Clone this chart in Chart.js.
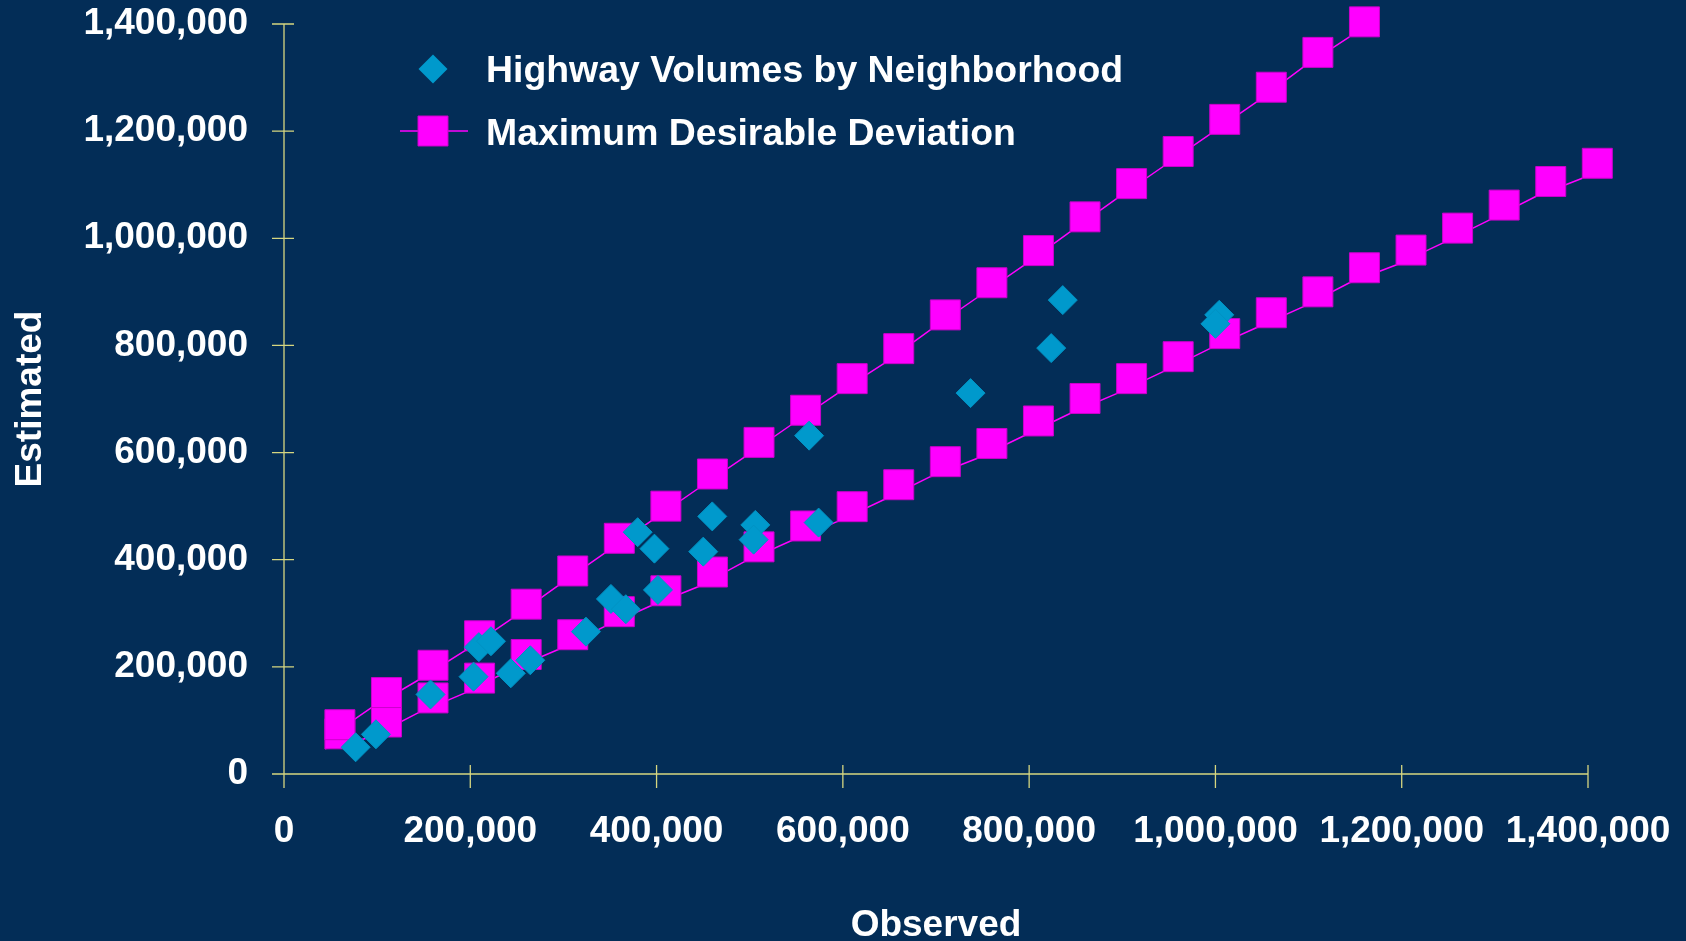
<!DOCTYPE html>
<html>
<head>
<meta charset="utf-8">
<title>Highway Volumes by Neighborhood</title>
<script src="https://cdn.jsdelivr.net/npm/chart.js@4.4.1/dist/chart.umd.min.js"></script>
<style>
  html, body { margin: 0; padding: 0; background: #032d57; overflow: hidden; }
  canvas { display: block; }
</style>
</head>
<body>
<canvas id="chart" width="1686" height="941"></canvas>
<script>
const fontFamily = '"Liberation Sans", Arial, sans-serif';
const blue = "#0099cc";
const magenta = "#ff00ff";
const axisColor = "#d6d680";

// Highway Volumes by Neighborhood
const observed = [76900, 98700, 157300, 203500, 243500, 264400, 209200, 222200, 324200, 351000,
    367000, 401500, 379700, 397700, 459800, 450100, 506000, 504200, 574000, 563800,
    737100, 823700, 836100, 1004100, 1000000];
const estimated = [49900, 74100, 148500, 181700, 188000, 212300, 236800, 247800, 265700, 326800,
    307600, 343600, 451400, 420700, 480900, 415100, 465000, 437500, 469300, 631600,
    711000, 795000, 884600, 857100, 840300];

// Maximum Desirable Deviation (upper and lower band)
const upperObserved = [60000, 110000, 160000, 210000, 260000, 310000, 360000, 410000, 460000, 510000,
    560000, 610000, 660000, 710000, 760000, 810000, 860000, 910000, 960000, 1010000,
    1060000, 1110000, 1160000];
const upperEstimated = [92000, 152000, 203000, 258000, 317000, 379000, 440000, 500000, 560000, 619000,
    679000, 738000, 794000, 857000, 917000, 977000, 1040000, 1102000, 1162000, 1222000,
    1282000, 1347000, 1404000];
const lowerObserved = [60000, 110000, 160000, 210000, 260000, 310000, 360000, 410000, 460000, 510000,
    560000, 610000, 660000, 710000, 760000, 810000, 860000, 910000, 960000, 1010000,
    1060000, 1110000, 1160000, 1210000, 1260000, 1310000, 1360000, 1410000];
const lowerEstimated = [75000, 97000, 142000, 179000, 223000, 260000, 303000, 342000, 377000, 424000,
    463000, 499000, 540000, 583000, 617000, 659000, 701000, 738000, 779000, 822000,
    861000, 900000, 945000, 978000, 1019000, 1062000, 1106000, 1140000];

const axisTicks = [0, 200000, 400000, 600000, 800000, 1000000, 1200000, 1400000];

const toPoints = (xs, ys) => xs.map((x, i) => ({ x: x, y: ys[i] }));

const tickFont = { family: fontFamily, size: 37, weight: "bold" };
const titleFont = { family: fontFamily, size: 37, weight: "bold", lineHeight: 1 };

// axis lines with ticks crossing them
const axisLines = {
    id: "axisLines",
    beforeDatasetsDraw(chart) {
        const { ctx, chartArea: a, scales } = chart;
        ctx.save();
        ctx.strokeStyle = axisColor;
        ctx.lineWidth = 1.3;
        ctx.beginPath();
        ctx.moveTo(a.left, a.top);
        ctx.lineTo(a.left, a.bottom);
        ctx.moveTo(a.left, a.bottom);
        ctx.lineTo(a.right, a.bottom);
        scales.y.ticks.forEach(t => {
            const y = scales.y.getPixelForValue(t.value);
            ctx.moveTo(a.left - 12, y);
            ctx.lineTo(a.left + 10, y);
        });
        scales.x.ticks.forEach(t => {
            const x = scales.x.getPixelForValue(t.value);
            ctx.moveTo(x, a.bottom - 9);
            ctx.lineTo(x, a.bottom + 14);
        });
        ctx.stroke();
        ctx.restore();
    }
};

// the band lines sit a little down-left of their markers in the original
const lineShift = {
    id: "lineShift",
    beforeDatasetDraw(chart, args) {
        if (chart.data.datasets[args.index].shifted) {
            chart.ctx.save();
            chart.ctx.translate(-15, 15);
        }
    },
    afterDatasetDraw(chart, args) {
        if (chart.data.datasets[args.index].shifted) {
            chart.ctx.restore();
        }
    }
};

const legendBox = {
    id: "legendBox",
    afterDraw(chart) {
        const ctx = chart.ctx;
        ctx.save();
        ctx.fillStyle = blue;
        ctx.strokeStyle = blue;
        Chart.helpers.drawPoint(ctx, { pointStyle: "rectRot", radius: 14.5, borderWidth: 0 }, 433, 69);

        ctx.strokeStyle = magenta;
        ctx.lineWidth = 1.5;
        ctx.beginPath();
        ctx.moveTo(400, 131);
        ctx.lineTo(468, 131);
        ctx.stroke();
        ctx.fillStyle = magenta;
        ctx.strokeStyle = "#cc00cc";
        ctx.lineWidth = 1;
        Chart.helpers.drawPoint(ctx, { pointStyle: "rect", radius: 21.2, borderWidth: 1 }, 433, 131);

        ctx.fillStyle = "#ffffff";
        ctx.font = "bold 37.4px " + fontFamily;
        ctx.textBaseline = "alphabetic";
        ctx.textAlign = "left";
        ctx.fillText("Highway Volumes by Neighborhood", 486, 82);
        ctx.fillText("Maximum Desirable Deviation", 486, 144.5);
        ctx.restore();
    }
};

const squareStyle = {
    showLine: false,
    pointStyle: "rect",
    pointRadius: 21.2,
    pointHoverRadius: 21.2,
    backgroundColor: magenta,
    borderColor: "#cc00cc",
    borderWidth: 1,
    clip: false,
};

const lineStyle = {
    showLine: true,
    shifted: true,
    pointRadius: 0,
    borderColor: magenta,
    borderWidth: 1.5,
    clip: false,
};

const config = {
    type: "scatter",
    data: {
        datasets: [
            {
                label: "Highway Volumes by Neighborhood",
                data: toPoints(observed, estimated),
                pointStyle: "rectRot",
                pointRadius: 14.5,
                pointHoverRadius: 14.5,
                backgroundColor: blue,
                borderColor: "#0093c4",
                borderWidth: 1,
                clip: false,
            },
            { label: "Maximum Desirable Deviation", data: toPoints(upperObserved, upperEstimated), ...squareStyle },
            { label: "Maximum Desirable Deviation", data: toPoints(lowerObserved, lowerEstimated), ...squareStyle },
            { label: "upper band", data: toPoints(upperObserved, upperEstimated), ...lineStyle },
            { label: "lower band", data: toPoints(lowerObserved, lowerEstimated), ...lineStyle },
        ],
    },
    options: {
        responsive: false,
        devicePixelRatio: 1,
        animation: false,
        layout: {
            padding: { top: 24, right: 98, bottom: 0, left: 0 },
        },
        plugins: {
            legend: { display: false },
            tooltip: { enabled: false },
        },
        scales: {
            x: {
                type: "linear",
                min: 0,
                max: 1400000,
                afterBuildTicks: scale => { scale.ticks = axisTicks.map(v => ({ value: v })); },
                afterFit: scale => {
                    scale.height = 167;
                    scale.paddingLeft = 0;
                    scale.paddingRight = 0;
                },
                grid: { display: false, drawTicks: false },
                border: { display: false },
                ticks: {
                    color: "#ffffff",
                    font: tickFont,
                    padding: 36,
                    autoSkip: false,
                    maxRotation: 0,
                    callback: v => v.toLocaleString("en-US"),
                },
                title: {
                    display: true,
                    text: "Observed",
                    color: "#ffffff",
                    font: titleFont,
                    padding: { top: 0, bottom: -3 },
                },
            },
            y: {
                type: "linear",
                min: 0,
                max: 1400000,
                afterBuildTicks: scale => { scale.ticks = axisTicks.map(v => ({ value: v })); },
                afterFit: scale => {
                    scale.width = 284;
                    scale.paddingTop = 0;
                    scale.paddingBottom = 0;
                },
                grid: { display: false, drawTicks: false },
                border: { display: false },
                ticks: {
                    color: "#ffffff",
                    font: tickFont,
                    padding: 36,
                    autoSkip: false,
                    callback: v => v.toLocaleString("en-US"),
                },
                title: {
                    display: true,
                    text: "Estimated",
                    color: "#ffffff",
                    font: titleFont,
                    padding: { top: 12, bottom: 0 },
                },
            },
        },
    },
    plugins: [axisLines, lineShift, legendBox],
};

new Chart(document.getElementById("chart"), config);
</script>
</body>
</html>
